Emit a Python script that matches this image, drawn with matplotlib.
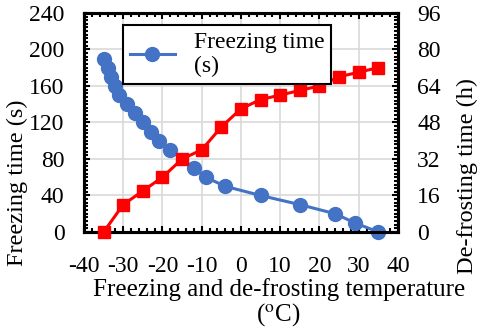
import numpy as np
import matplotlib
matplotlib.use("Agg")
from matplotlib import pyplot as plt
from matplotlib.ticker import MultipleLocator, AutoMinorLocator

plt.rcParams['font.family'] = ['Liberation Serif', 'DejaVu Serif']
plt.rcParams['mathtext.fontset'] = 'stix'
plt.rcParams['axes.unicode_minus'] = False

# freezing time (left axis, s)
freeze_temp = [-35, -34, -33, -32, -31, -29, -27, -25, -23, -21, -18, -12, -9, -4, 5, 15, 24, 29, 35]
freeze_time = [190, 180, 170, 160, 150, 140, 130, 120, 110, 100, 90, 70, 60, 50, 40, 30, 20, 10, 0]

# de-frosting time (right axis, h)
defrost_temp = [-35, -30, -25, -20, -15, -10, -5, 0, 5, 10, 15, 20, 25, 30, 35]
defrost_time = [0, 12, 18, 24, 32, 36, 46, 54, 58, 60, 62, 64, 68, 70, 72]

blue = '#4472C4'
red = '#FF0000'

fig = plt.figure(figsize=(4.8, 3.3), dpi=100)
ax = fig.add_axes([0.175, 0.297, 0.654, 0.664])
ax2 = ax.twinx()

ax.set_xlim(-40, 40)
ax.set_ylim(0, 240)
ax2.set_ylim(0, 96)
ax.xaxis.set_major_locator(MultipleLocator(10))
ax.yaxis.set_major_locator(MultipleLocator(40))
ax2.yaxis.set_major_locator(MultipleLocator(16))
ax.xaxis.set_minor_locator(AutoMinorLocator(5))
ax.yaxis.set_minor_locator(AutoMinorLocator(10))
ax2.yaxis.set_minor_locator(AutoMinorLocator(10))

ax.grid(True, which='major', color='#d9d9d9', linewidth=1.2)
ax.set_axisbelow(True)

line_f, = ax.plot(freeze_temp, freeze_time, color=blue, linewidth=2.2, marker='o',
                  markersize=10, label='Freezing time\n(s)', zorder=3, clip_on=False)
ax2.plot(defrost_temp, defrost_time, color=red, linewidth=2.2, marker='s',
         markersize=8.5, zorder=3, clip_on=False)

for a in (ax, ax2):
    for s in a.spines.values():
        s.set_linewidth(2.2)
        s.set_color('black')

fs_tick = 17
ax.tick_params(axis='x', which='both', direction='in', top=True, labelsize=fs_tick, pad=17)
ax.tick_params(axis='y', which='both', direction='in', labelsize=fs_tick, pad=14)
ax2.tick_params(axis='y', which='both', direction='in', labelsize=fs_tick, pad=14)
for a in (ax, ax2):
    a.tick_params(which='major', length=4, width=1.5)
    a.tick_params(which='minor', length=3, width=1.5)

ax.set_xlabel('Freezing and de-frosting temperature\n(${}^{\\mathrm{o}}$C)', fontsize=18,
              linespacing=1.0)
ax.xaxis.set_label_coords(0.62, -0.212)
ax.set_ylabel('Freezing time (s)', fontsize=17.5)
ax.yaxis.set_label_coords(-0.178, 0.224)
ax2.set_ylabel('De-frosting time (h)', fontsize=17.5)
ax2.yaxis.set_label_coords(1.188, 0.256)

# legend only shows the freezing series; put it on top axes
leg = ax2.legend(handles=[line_f], loc='upper left', bbox_to_anchor=(0.124, 0.945),
                 fontsize=17, frameon=True, fancybox=False, edgecolor='black',
                 framealpha=1, handlelength=1.9, borderpad=0.3, labelspacing=0.2,
                 borderaxespad=0)
leg.get_frame().set_linewidth(1.5)
leg.set_zorder(5)

fig.savefig('out.png', dpi=100)
